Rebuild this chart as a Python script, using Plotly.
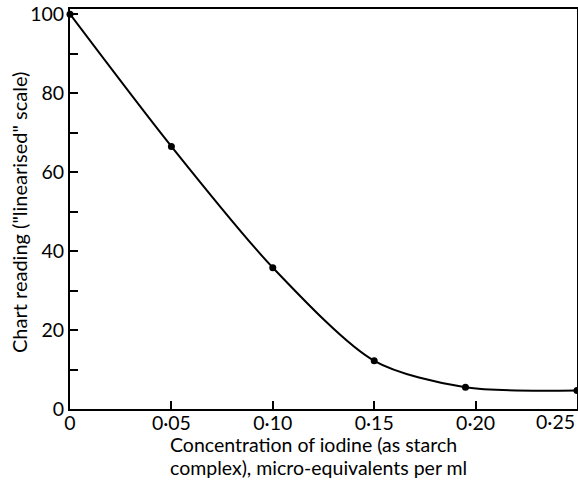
import plotly.graph_objects as go

conc = [0.0, 0.05, 0.10, 0.15, 0.195, 0.25]
reading = [100.0, 66.5, 35.8, 12.2, 5.5, 4.7]

x_tick_vals = [0, 0.05, 0.10, 0.15, 0.20]
x_tick_text = ["0", "0·05", "0·10", "0·15", "0·20"]
x_last_tick = 0.25
x_last_text = "0·25"
y_tick_vals = [0, 20, 40, 60, 80, 100]
y_tick_text = ["0", "20", "40", "60", "80", "100"]
y_minor_vals = [10, 30, 50, 70, 90]

x_title_lines = ["Concentration of iodine (as starch", "complex), micro-equivalents per ml"]
y_title = "Chart reading (\"linearised\" scale)"

font_family = "Lato, Open Sans, sans-serif"
fs_tick = 19.5
fs_title = 19.5

fig = go.Figure()
fig.add_trace(go.Scatter(
    x=conc, y=reading, mode="lines+markers",
    line=dict(color="black", width=2, shape="spline", smoothing=0.8),
    marker=dict(color="black", size=7),
    showlegend=False, cliponaxis=False,
))

fig.add_annotation(
    x=x_last_tick, y=0, xref="x", yref="paper", text=x_last_text,
    showarrow=False, xanchor="right", yanchor="top", yshift=1,
    font=dict(size=fs_tick, family=font_family, color="black"),
)
# axis titles as annotations for precise placement
fig.add_annotation(
    x=0.193, y=0, xref="paper", yref="paper", text=x_title_lines[0],
    showarrow=False, xanchor="left", yanchor="middle", yshift=-35.5,
    font=dict(size=fs_title, family=font_family, color="black"),
)
fig.add_annotation(
    x=0.193, y=0, xref="paper", yref="paper", text=x_title_lines[1],
    showarrow=False, xanchor="left", yanchor="middle", yshift=-58.5,
    font=dict(size=fs_title, family=font_family, color="black"),
)
fig.add_annotation(
    x=0, y=0.49, xref="paper", yref="paper", text=y_title,
    showarrow=False, xanchor="center", yanchor="middle", xshift=-51, textangle=-90,
    font=dict(size=20, family=font_family, color="black"),
)

fig.update_layout(
    width=578, height=480,
    margin=dict(l=70, r=1, t=9, b=71),
    paper_bgcolor="white", plot_bgcolor="white",
    font=dict(family=font_family, color="black", size=fs_tick),
)
fig.update_xaxes(
    range=[0, 0.25], tickvals=x_tick_vals + [x_last_tick], ticktext=x_tick_text + [""],
    ticks="inside", ticklen=8, tickwidth=1.5, tickcolor="black",
    ticklabelstandoff=-4,
    showline=True, linecolor="black", linewidth=2, mirror=True,
    showgrid=False, zeroline=False, automargin=False,
)
fig.update_yaxes(
    range=[0, 101.3], tickvals=y_tick_vals, ticktext=y_tick_text,
    ticks="inside", ticklen=8, tickwidth=1.5, tickcolor="black",
    minor=dict(tickvals=y_minor_vals, ticks="inside", ticklen=8, tickwidth=1.5, tickcolor="black"),
    showline=True, linecolor="black", linewidth=2, mirror=True,
    showgrid=False, zeroline=False, automargin=False,
)

fig.write_html("out.html", config={"displayModeBar": False},
               post_script="document.body.style.margin='0';")
